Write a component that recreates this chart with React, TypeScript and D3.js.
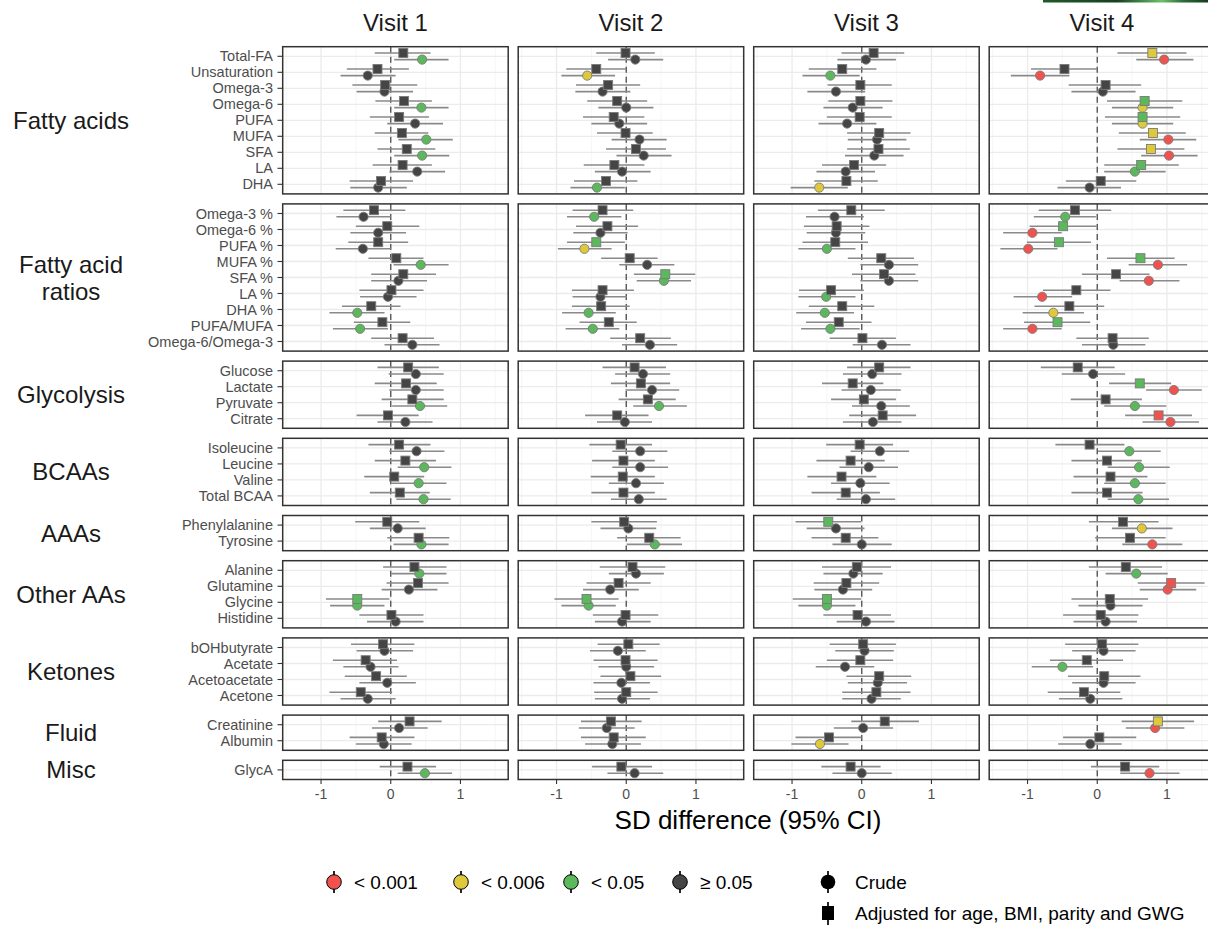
import React from "react";
import * as d3 from "d3";

// ---------- DATA ----------
const visits = ["Visit 1", "Visit 2", "Visit 3", "Visit 4"];
const groupNames = ["Fatty acids", "Fatty acid\nratios", "Glycolysis", "BCAAs", "AAAs", "Other AAs", "Ketones", "Fluid", "Misc"];
const fattyAcids = ["Total-FA", "Unsaturation", "Omega-3", "Omega-6", "PUFA", "MUFA", "SFA", "LA", "DHA"];
const fattyAcidRatios = ["Omega-3 %", "Omega-6 %", "PUFA %", "MUFA %", "SFA %", "LA %", "DHA %", "PUFA/MUFA", "Omega-6/Omega-3"];
const glycolysis = ["Glucose", "Lactate", "Pyruvate", "Citrate"];
const bcaas = ["Isoleucine", "Leucine", "Valine", "Total BCAA"];
const aaas = ["Phenylalanine", "Tyrosine"];
const otherAAs = ["Alanine", "Glutamine", "Glycine", "Histidine"];
const ketones = ["bOHbutyrate", "Acetate", "Acetoacetate", "Acetone"];
const fluid = ["Creatinine", "Albumin"];
const misc = ["GlycA"];
const groupMetabolites = [fattyAcids, fattyAcidRatios, glycolysis, bcaas, aaas, otherAAs, ketones, fluid, misc];

const pLabels = ["< 0.001", "< 0.006", "< 0.05", "\u2265 0.05"];
const pColors = ["#F0524F", "#DDC93A", "#5CB85C", "#454545"];
const modelLabels = ["Crude", "Adjusted for age, BMI, parity and GWG"];
const xTicks = [-1, 0, 1];
const xMinor = [-1.5, -0.5, 0.5, 1.5];

// [estimate, lower CI, upper CI, p-category]  (0 <0.001, 1 <0.006, 2 <0.05, 3 >=0.05)
type Est = [number, number, number, number];
const R = 0, Y = 1, G = 2, N = 3;

const visit1Crude: Est[] = [
  [0.45, 0.05, 0.83, G], [-0.33, -0.72, 0.07, N], [-0.09, -0.49, 0.32, N], [0.44, 0.05, 0.83, G], [0.35, -0.05, 0.75, N], [0.51, 0.11, 0.89, G], [0.45, 0.05, 0.84, G], [0.38, -0.02, 0.78, N], [-0.18, -0.58, 0.23, N],
  [-0.39, -0.78, 0.0, N], [-0.18, -0.58, 0.22, N], [-0.4, -0.79, 0.0, N], [0.43, 0.04, 0.83, G], [0.11, -0.28, 0.52, N], [-0.04, -0.44, 0.37, N], [-0.48, -0.88, -0.09, G], [-0.44, -0.83, -0.04, G], [0.31, -0.09, 0.7, N],
  [0.36, -0.03, 0.76, N], [0.36, -0.02, 0.76, N], [0.42, 0.02, 0.81, G], [0.21, -0.19, 0.6, N],
  [0.37, -0.02, 0.77, N], [0.48, 0.1, 0.87, G], [0.4, 0.0, 0.8, G], [0.47, 0.08, 0.86, G],
  [0.1, -0.3, 0.5, N], [0.44, 0.04, 0.83, G],
  [0.41, 0.01, 0.8, G], [0.26, -0.13, 0.67, N], [-0.48, -0.87, -0.09, G], [0.07, -0.34, 0.47, N],
  [-0.09, -0.49, 0.32, N], [-0.29, -0.68, 0.11, N], [-0.05, -0.45, 0.36, N], [-0.33, -0.72, 0.07, N],
  [0.12, -0.27, 0.53, N], [-0.1, -0.5, 0.3, N],
  [0.49, 0.1, 0.88, G],
];
const visit1Adjusted: Est[] = [
  [0.18, -0.23, 0.57, N], [-0.19, -0.63, 0.26, N], [-0.08, -0.55, 0.38, N], [0.19, -0.22, 0.59, N], [0.12, -0.3, 0.55, N], [0.16, -0.23, 0.54, N], [0.23, -0.19, 0.64, N], [0.17, -0.26, 0.59, N], [-0.14, -0.59, 0.32, N],
  [-0.24, -0.68, 0.21, N], [-0.05, -0.5, 0.41, N], [-0.18, -0.61, 0.25, N], [0.08, -0.32, 0.47, N], [0.18, -0.28, 0.65, N], [0.01, -0.45, 0.47, N], [-0.28, -0.7, 0.14, N], [-0.12, -0.53, 0.28, N], [0.17, -0.28, 0.62, N],
  [0.25, -0.19, 0.69, N], [0.22, -0.23, 0.66, N], [0.31, -0.13, 0.76, N], [-0.04, -0.49, 0.4, N],
  [0.12, -0.32, 0.57, N], [0.21, -0.23, 0.65, N], [0.05, -0.38, 0.48, N], [0.13, -0.3, 0.56, N],
  [-0.05, -0.51, 0.41, N], [0.4, -0.05, 0.84, N],
  [0.34, -0.11, 0.8, N], [0.39, -0.06, 0.83, N], [-0.48, -0.93, -0.02, G], [0.01, -0.45, 0.47, N],
  [-0.11, -0.57, 0.34, N], [-0.36, -0.83, 0.09, N], [-0.21, -0.66, 0.23, N], [-0.43, -0.88, 0.02, N],
  [0.27, -0.18, 0.73, N], [-0.13, -0.59, 0.34, N],
  [0.24, -0.16, 0.65, N],
];
const visit2Crude: Est[] = [
  [0.13, -0.26, 0.53, N], [-0.56, -0.93, -0.16, Y], [-0.34, -0.73, 0.06, N], [0.0, -0.4, 0.39, N], [-0.1, -0.5, 0.3, N], [0.19, -0.21, 0.58, N], [0.25, -0.14, 0.65, N], [-0.06, -0.45, 0.35, N], [-0.42, -0.8, -0.02, G],
  [-0.46, -0.85, -0.07, G], [-0.37, -0.76, 0.02, N], [-0.6, -0.98, -0.21, Y], [0.3, -0.1, 0.69, N], [0.54, 0.15, 0.93, G], [-0.37, -0.77, 0.01, N], [-0.54, -0.92, -0.15, G], [-0.48, -0.87, -0.1, G], [0.34, -0.06, 0.73, N],
  [0.24, -0.16, 0.63, N], [0.37, -0.01, 0.76, N], [0.47, 0.1, 0.87, G], [-0.02, -0.42, 0.37, N],
  [0.2, -0.2, 0.59, N], [0.2, -0.2, 0.6, N], [0.14, -0.25, 0.54, N], [0.18, -0.22, 0.58, N],
  [0.03, -0.37, 0.43, N], [0.41, 0.01, 0.8, G],
  [0.14, -0.25, 0.54, N], [-0.23, -0.62, 0.18, N], [-0.54, -0.93, -0.15, G], [-0.06, -0.45, 0.35, N],
  [-0.12, -0.52, 0.28, N], [0.0, -0.4, 0.4, N], [-0.07, -0.47, 0.34, N], [-0.06, -0.45, 0.34, N],
  [-0.28, -0.68, 0.12, N], [-0.2, -0.59, 0.21, N],
  [0.12, -0.27, 0.53, N],
];
const visit2Adjusted: Est[] = [
  [-0.01, -0.43, 0.41, N], [-0.43, -0.86, 0.0, N], [-0.26, -0.72, 0.2, N], [-0.13, -0.56, 0.3, N], [-0.18, -0.62, 0.26, N], [-0.01, -0.42, 0.38, N], [0.14, -0.29, 0.57, N], [-0.17, -0.61, 0.26, N], [-0.29, -0.75, 0.16, N],
  [-0.34, -0.77, 0.1, N], [-0.27, -0.72, 0.17, N], [-0.43, -0.85, -0.02, G], [0.05, -0.36, 0.45, N], [0.56, 0.11, 0.99, G], [-0.34, -0.78, 0.11, N], [-0.36, -0.78, 0.05, N], [-0.25, -0.67, 0.15, N], [0.2, -0.23, 0.64, N],
  [0.12, -0.34, 0.57, N], [0.21, -0.22, 0.63, N], [0.31, -0.11, 0.71, N], [-0.13, -0.59, 0.32, N],
  [-0.08, -0.53, 0.37, N], [-0.04, -0.49, 0.41, N], [-0.05, -0.51, 0.41, N], [-0.04, -0.5, 0.41, N],
  [-0.03, -0.5, 0.44, N], [0.33, -0.13, 0.78, N],
  [0.09, -0.38, 0.56, N], [-0.11, -0.57, 0.35, N], [-0.57, -1.03, -0.11, G], [-0.01, -0.48, 0.46, N],
  [0.03, -0.41, 0.48, N], [-0.01, -0.47, 0.45, N], [0.06, -0.37, 0.5, N], [0.0, -0.46, 0.45, N],
  [-0.22, -0.65, 0.22, N], [-0.18, -0.65, 0.28, N],
  [-0.07, -0.49, 0.37, N],
];
const visit3Crude: Est[] = [
  [0.06, -0.35, 0.49, N], [-0.45, -0.85, -0.03, G], [-0.37, -0.78, 0.05, N], [-0.13, -0.55, 0.3, N], [-0.21, -0.62, 0.21, N], [0.22, -0.2, 0.64, N], [0.18, -0.24, 0.6, N], [-0.23, -0.65, 0.19, N], [-0.61, -1.02, -0.2, Y],
  [-0.39, -0.8, 0.03, N], [-0.37, -0.79, 0.05, N], [-0.5, -0.91, -0.09, G], [0.39, -0.02, 0.81, N], [0.39, -0.02, 0.81, N], [-0.51, -0.91, -0.09, G], [-0.53, -0.94, -0.11, G], [-0.45, -0.87, -0.03, G], [0.29, -0.13, 0.7, N],
  [0.15, -0.27, 0.57, N], [0.13, -0.29, 0.56, N], [0.28, -0.14, 0.69, N], [0.16, -0.27, 0.57, N],
  [0.26, -0.16, 0.68, N], [0.1, -0.32, 0.52, N], [-0.02, -0.44, 0.4, N], [0.06, -0.36, 0.48, N],
  [-0.37, -0.79, 0.04, N], [0.0, -0.42, 0.43, N],
  [-0.12, -0.55, 0.3, N], [-0.27, -0.68, 0.15, N], [-0.5, -0.91, -0.09, G], [0.06, -0.36, 0.47, N],
  [0.04, -0.38, 0.46, N], [-0.24, -0.66, 0.18, N], [0.23, -0.2, 0.65, N], [0.14, -0.28, 0.56, N],
  [0.02, -0.4, 0.45, N], [-0.6, -1.01, -0.19, Y],
  [0.0, -0.42, 0.43, N],
];
const visit3Adjusted: Est[] = [
  [0.17, -0.29, 0.61, N], [-0.28, -0.76, 0.21, N], [-0.02, -0.49, 0.43, N], [-0.02, -0.48, 0.44, N], [-0.03, -0.5, 0.43, N], [0.25, -0.21, 0.7, N], [0.24, -0.21, 0.69, N], [-0.11, -0.57, 0.35, N], [-0.22, -0.68, 0.23, N],
  [-0.15, -0.63, 0.33, N], [-0.36, -0.83, 0.11, N], [-0.38, -0.85, 0.09, N], [0.28, -0.2, 0.75, N], [0.32, -0.14, 0.77, N], [-0.44, -0.9, 0.03, N], [-0.28, -0.76, 0.18, N], [-0.33, -0.8, 0.14, N], [0.01, -0.46, 0.49, N],
  [0.25, -0.21, 0.7, N], [-0.13, -0.57, 0.31, N], [0.03, -0.44, 0.49, N], [0.3, -0.18, 0.78, N],
  [-0.03, -0.51, 0.45, N], [-0.16, -0.65, 0.33, N], [-0.29, -0.78, 0.21, N], [-0.23, -0.72, 0.26, N],
  [-0.48, -0.95, -0.01, G], [-0.23, -0.72, 0.24, N],
  [-0.07, -0.57, 0.42, N], [-0.22, -0.69, 0.25, N], [-0.5, -0.99, -0.01, G], [-0.06, -0.55, 0.42, N],
  [0.02, -0.46, 0.49, N], [-0.02, -0.5, 0.45, N], [0.25, -0.22, 0.71, N], [0.21, -0.28, 0.7, N],
  [0.33, -0.15, 0.82, N], [-0.47, -0.95, 0.0, N],
  [-0.16, -0.58, 0.27, N],
];
const visit4Crude: Est[] = [
  [0.96, 0.56, 1.38, R], [-0.82, -1.24, -0.4, R], [0.08, -0.37, 0.55, N], [0.65, 0.21, 1.09, Y], [0.65, 0.21, 1.09, Y], [1.02, 0.61, 1.42, R], [1.03, 0.63, 1.44, R], [0.54, 0.1, 0.98, G], [-0.11, -0.57, 0.34, N],
  [-0.46, -0.91, -0.02, G], [-0.93, -1.35, -0.51, R], [-0.99, -1.39, -0.57, R], [0.87, 0.45, 1.29, R], [0.74, 0.32, 1.18, R], [-0.79, -1.2, -0.36, R], [-0.63, -1.07, -0.19, Y], [-0.93, -1.35, -0.51, R], [0.23, -0.22, 0.69, N],
  [-0.06, -0.51, 0.4, N], [1.1, 0.7, 1.5, R], [0.54, 0.1, 0.99, G], [1.05, 0.65, 1.46, R],
  [0.46, 0.01, 0.91, G], [0.6, 0.15, 1.04, G], [0.54, 0.1, 0.98, G], [0.59, 0.15, 1.03, G],
  [0.64, 0.21, 1.08, Y], [0.79, 0.36, 1.22, R],
  [0.56, 0.12, 1.01, G], [1.01, 0.61, 1.42, R], [0.19, -0.27, 0.65, N], [0.12, -0.34, 0.57, N],
  [0.09, -0.36, 0.55, N], [-0.5, -0.94, -0.06, G], [0.09, -0.36, 0.55, N], [-0.1, -0.55, 0.36, N],
  [0.83, 0.41, 1.25, R], [-0.1, -0.56, 0.35, N],
  [0.75, 0.33, 1.18, R],
];
const visit4Adjusted: Est[] = [
  [0.79, 0.29, 1.28, Y], [-0.47, -0.95, 0.0, N], [0.12, -0.41, 0.63, N], [0.68, 0.14, 1.22, G], [0.65, 0.11, 1.19, G], [0.8, 0.31, 1.27, Y], [0.77, 0.29, 1.25, Y], [0.63, 0.1, 1.17, G], [0.05, -0.45, 0.56, N],
  [-0.32, -0.84, 0.2, N], [-0.49, -0.97, -0.01, G], [-0.55, -1.01, -0.09, G], [0.62, 0.14, 1.11, G], [0.27, -0.22, 0.75, N], [-0.3, -0.78, 0.19, N], [-0.4, -0.9, 0.1, N], [-0.57, -1.05, -0.1, G], [0.22, -0.3, 0.74, N],
  [-0.28, -0.81, 0.25, N], [0.61, 0.17, 1.06, G], [0.12, -0.38, 0.64, N], [0.88, 0.4, 1.36, R],
  [-0.11, -0.6, 0.39, N], [0.14, -0.37, 0.64, N], [0.19, -0.34, 0.72, N], [0.14, -0.37, 0.65, N],
  [0.37, -0.12, 0.88, N], [0.47, -0.03, 0.98, N],
  [0.41, -0.12, 0.93, N], [1.06, 0.58, 1.54, R], [0.18, -0.37, 0.73, N], [0.05, -0.49, 0.59, N],
  [0.07, -0.46, 0.59, N], [-0.15, -0.68, 0.37, N], [0.1, -0.42, 0.62, N], [-0.19, -0.71, 0.33, N],
  [0.87, 0.35, 1.39, Y], [0.03, -0.49, 0.56, N],
  [0.4, -0.09, 0.89, N],
];
const crudeByVisit = [visit1Crude, visit2Crude, visit3Crude, visit4Crude];
const adjustedByVisit = [visit1Adjusted, visit2Adjusted, visit3Adjusted, visit4Adjusted];

// ---------- LAYOUT ----------
const W = 1208, H = 925;
const FONT = "'Liberation Sans', Arial, Helvetica, sans-serif";
const panelX0 = 282.7, panelW = 225.5, panelStep = 235.5;
const top0 = 46.7, unitH = 16, gapY = 10, padUnits = 0.6;
const dodge = 3.3;
const lineCol = "#8a8a8a";
const textGrey = "#4d4d4d";
const border = "#333333";

const x = d3.scaleLinear().domain([-1.55, 1.685]).range([0, panelW]);

type Panel = { name: string; items: string[]; top: number; h: number; y: d3.ScalePoint<string>; start: number };
const panels: Panel[] = [];
{
  let t = top0;
  let start = 0;
  groupMetabolites.forEach((items, gi) => {
    const h = (items.length - 1 + 2 * padUnits) * unitH;
    const y = d3.scalePoint<string>().domain(items).range([0, h]).padding(padUnits);
    panels.push({ name: groupNames[gi], items, top: t, h, y, start });
    start += items.length;
    t += h + gapY;
  });
}
const plotBottom = panels[panels.length - 1].top + panels[panels.length - 1].h;

function Marker({ shape, cx, cy, fill }: { shape: number; cx: number; cy: number; fill: string }) {
  if (shape === 0) return <circle cx={cx} cy={cy} r={4.6} fill={fill} stroke="#7a7a7a" strokeWidth={0.9} />;
  return <rect x={cx - 4.5} y={cy - 4.5} width={9} height={9} fill={fill} stroke="#7a7a7a" strokeWidth={0.9} />;
}

export default function App() {
  const legendColorX = [334, 461, 571, 680];
  return (
    <svg width={W} height={H} style={{ position: "absolute", left: 0, top: 0, background: "#fff" }} fontFamily={FONT}>
      <defs>
        <linearGradient id="topbar" x1="0" x2="1" y1="0" y2="0">
          <stop offset="0" stopColor="#1f5a2c" />
          <stop offset="0.45" stopColor="#173f22" />
          <stop offset="0.72" stopColor="#6cc26a" />
          <stop offset="0.85" stopColor="#2c6b36" />
          <stop offset="1" stopColor="#163a1f" />
        </linearGradient>
      </defs>
      <rect x={0} y={0} width={W} height={H} fill="#fff" />
      <rect x={1043} y={0} width={165} height={2.5} fill="url(#topbar)" />

      {/* visit titles */}
      {visits.map((v, vi) => (
        <text key={v} x={panelX0 + vi * panelStep + panelW / 2} y={31} textAnchor="middle" fontSize={24} fill="#1a1a1a">{v}</text>
      ))}

      {/* group strip labels */}
      {panels.map((p) => {
        const lines = p.name.split("\n");
        const cy = p.top + p.h / 2;
        return (
          <text key={p.name} x={71} textAnchor="middle" fontSize={24} fill="#1a1a1a">
            {lines.map((ln, li) => (
              <tspan key={li} x={71} y={cy + (li - (lines.length - 1) / 2) * 27 + 8.5}>{ln}</tspan>
            ))}
          </text>
        );
      })}

      {/* y tick labels */}
      {panels.map((p) => (
        <g key={"yl" + p.name}>
          {p.items.map((m) => (
            <g key={m}>
              <text x={273} y={p.top + (p.y(m) as number) + 5} textAnchor="end" fontSize={14.5} fill={textGrey}>{m}</text>
              <line x1={277.5} x2={panelX0} y1={p.top + (p.y(m) as number)} y2={p.top + (p.y(m) as number)} stroke={border} strokeWidth={1.1} />
            </g>
          ))}
        </g>
      ))}

      {/* panels */}
      {visits.map((v, vi) => {
        const px = panelX0 + vi * panelStep;
        const crude = crudeByVisit[vi];
        const adj = adjustedByVisit[vi];
        return (
          <g key={"v" + vi} transform={`translate(${px},0)`}>
            {panels.map((p) => (
              <g key={p.name} transform={`translate(0,${p.top})`}>
                <rect x={0} y={0} width={panelW} height={p.h} fill="#fff" />
                {xMinor.map((t) => (
                  <line key={"mn" + t} x1={x(t)} x2={x(t)} y1={0} y2={p.h} stroke="#f2f2f2" strokeWidth={0.7} />
                ))}
                {xTicks.map((t) => (
                  <line key={"mj" + t} x1={x(t)} x2={x(t)} y1={0} y2={p.h} stroke="#ebebeb" strokeWidth={1.3} />
                ))}
                {p.items.map((m) => (
                  <line key={"hg" + m} x1={0} x2={panelW} y1={p.y(m)} y2={p.y(m)} stroke="#ebebeb" strokeWidth={1.3} />
                ))}
                <line x1={x(0)} x2={x(0)} y1={0} y2={p.h} stroke="#4d4d4d" strokeWidth={1.3} strokeDasharray="6,4" />
                {/* error bars */}
                {p.items.map((m, i) => {
                  const yc = p.y(m) as number;
                  const c = crude[p.start + i];
                  const a = adj[p.start + i];
                  return (
                    <g key={"eb" + m}>
                      <line x1={x(c[1])} x2={x(c[2])} y1={yc + dodge} y2={yc + dodge} stroke={lineCol} strokeWidth={1.6} />
                      <line x1={x(a[1])} x2={x(a[2])} y1={yc - dodge} y2={yc - dodge} stroke={lineCol} strokeWidth={1.6} />
                    </g>
                  );
                })}
                {p.items.map((m, i) => {
                  const c = crude[p.start + i];
                  return <Marker key={"c" + m} shape={0} cx={x(c[0])} cy={(p.y(m) as number) + dodge} fill={pColors[c[3]]} />;
                })}
                {p.items.map((m, i) => {
                  const a = adj[p.start + i];
                  return <Marker key={"a" + m} shape={1} cx={x(a[0])} cy={(p.y(m) as number) - dodge} fill={pColors[a[3]]} />;
                })}
                <rect x={0} y={0} width={panelW} height={p.h} fill="none" stroke={border} strokeWidth={1.5} />
              </g>
            ))}
            {/* x axis */}
            {xTicks.map((t) => (
              <g key={"xt" + t}>
                <line x1={x(t)} x2={x(t)} y1={plotBottom} y2={plotBottom + 4.5} stroke={border} strokeWidth={1.1} />
                <text x={x(t)} y={plotBottom + 19} textAnchor="middle" fontSize={14} fill={textGrey}>{t === -1 ? "-1" : String(t)}</text>
              </g>
            ))}
          </g>
        );
      })}

      {/* axis title */}
      <text x={748} y={829} textAnchor="middle" fontSize={26} fill="#000">SD difference (95% CI)</text>

      {/* legend: p-values */}
      {pLabels.map((lab, i) => (
        <g key={lab}>
          <line x1={legendColorX[i]} x2={legendColorX[i]} y1={871} y2={893} stroke="#000" strokeWidth={1.7} />
          <circle cx={legendColorX[i]} cy={882} r={7.3} fill={pColors[i]} stroke="#000" strokeWidth={1} />
          <text x={legendColorX[i] + 20} y={889} fontSize={19} fill="#000">{lab}</text>
        </g>
      ))}
      {/* legend: models */}
      <g>
        <line x1={828} x2={828} y1={871} y2={893} stroke="#000" strokeWidth={1.7} />
        <circle cx={828} cy={882} r={7.3} fill="#000" />
        <text x={855} y={889} fontSize={19} fill="#000">{modelLabels[0]}</text>
        <line x1={828} x2={828} y1={902} y2={925} stroke="#000" strokeWidth={1.7} />
        <rect x={822} y={906} width={12} height={14} fill="#000" />
        <text x={855} y={920} fontSize={19} fill="#000">{modelLabels[1]}</text>
      </g>
    </svg>
  );
}
